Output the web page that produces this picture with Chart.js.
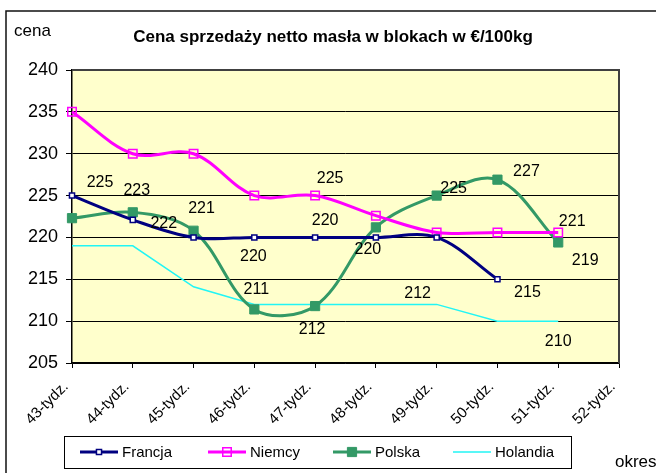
<!DOCTYPE html>
<html>
<head>
<meta charset="utf-8">
<script src="https://cdn.jsdelivr.net/npm/chart.js@4.4.0/dist/chart.umd.min.js"></script>
<style>
  html, body { margin: 0; padding: 0; background: #fff; }
  #wrap { width: 656px; height: 473px; position: relative; }
</style>
</head>
<body>
<div id="wrap"><canvas id="chart" width="656" height="473"></canvas></div>
<script>
// --- Data ---
const weeks = ['43-tydz.', '44-tydz.', '45-tydz.', '46-tydz.', '47-tydz.', '48-tydz.', '49-tydz.', '50-tydz.', '51-tydz.', '52-tydz.'];
const francja = [225, 222.1, 220, 220, 220, 220, 220, 215, null, null];
const niemcy = [235, 230, 230, 225, 225, 222.6, 220.6, 220.6, 220.6, null];
const polska = [222.3, 223, 220.8, 211.4, 211.8, 221.2, 225, 226.9, 219.4, null];
const holandia = [219, 219, 214.1, 212, 212, 212, 212, 210, 210, null];
const yMin = 205;
const yMax = 240;
const yStep = 5;

// data labels shown in the picture: [dataset, point, dx, dy]
const labelPlaces = [
  [0, 0, 28, -13], [2, 1, 4, -22], [0, 1, 31, 4], [2, 2, 8, -22],
  [0, 3, -1, 19], [2, 3, 2, -20], [2, 4, -3, 24], [1, 4, 15, -17],
  [0, 4, 10, -17], [0, 5, -8, 12], [2, 6, 17, -7], [2, 7, 29, -8],
  [1, 8, 14, -11], [2, 8, 27, 18], [0, 7, 30, 13], [3, 6, -19, -11],
  [3, 8, 0, 20]
];

const FONT = 'Arial, "Liberation Sans", sans-serif';

// --- Frame, title, labels, legend ---
const decorPlugin = {
  id: 'decor',
  beforeDraw(chart) {
    const { ctx, chartArea: a } = chart;
    ctx.save();
    ctx.fillStyle = '#FFFFCC';
    ctx.fillRect(a.left, a.top, a.right - a.left, a.bottom - a.top);
    ctx.restore();
  },
  afterDraw(chart) {
    const { ctx, chartArea: a } = chart;
    ctx.save();

    // plot border (top / right)
    ctx.strokeStyle = '#404040';
    ctx.lineWidth = 2;
    ctx.beginPath();
    ctx.moveTo(a.left, a.top);
    ctx.lineTo(a.right, a.top);
    ctx.lineTo(a.right, a.bottom);
    ctx.stroke();

    // outer frame
    ctx.strokeStyle = '#111';
    ctx.lineWidth = 1.5;
    ctx.beginPath();
    ctx.moveTo(6, 480);
    ctx.lineTo(6, 11);
    ctx.lineTo(660, 11);
    ctx.stroke();

    // title and axis names
    ctx.fillStyle = '#000';
    ctx.textBaseline = 'middle';
    ctx.textAlign = 'center';
    ctx.font = 'bold 17px ' + FONT;
    ctx.fillText('Cena sprzedaży netto masła w blokach w €/100kg', 333, 37);
    ctx.textAlign = 'left';
    ctx.font = '17px ' + FONT;
    ctx.fillText('cena', 14, 31);
    ctx.fillText('okres', 615, 462);

    // data labels
    ctx.font = '16px ' + FONT;
    ctx.textAlign = 'center';
    labelPlaces.forEach(([d, i, dx, dy]) => {
      const pt = chart.getDatasetMeta(d).data[i];
      const v = chart.data.datasets[d].data[i];
      ctx.fillText(String(Math.round(v)), pt.x + dx, pt.y + dy);
    });

    // legend
    const lx = 64, ly = 436, lw = 507, lh = 32;
    ctx.strokeStyle = '#000';
    ctx.lineWidth = 1;
    ctx.strokeRect(lx + 0.5, ly + 0.5, lw, lh);
    const starts = [80, 208, 333, 453];
    const cy = ly + lh / 2;
    ctx.font = '15px ' + FONT;
    ctx.textAlign = 'left';
    chart.data.datasets.forEach((ds, k) => {
      const x0 = starts[k];
      ctx.strokeStyle = ds.borderColor;
      ctx.lineWidth = ds.borderWidth;
      ctx.beginPath();
      ctx.moveTo(x0, cy);
      ctx.lineTo(x0 + 38, cy);
      ctx.stroke();
      if (ds.pointRadius > 0) {
        ctx.fillStyle = ds.pointBackgroundColor;
        ctx.strokeStyle = ds.borderColor;
        ctx.lineWidth = ds.pointBorderWidth;
        const s = ds.pointRadius * Math.SQRT1_2;
        ctx.beginPath();
        ctx.rect(x0 + 19 - s, cy - s, 2 * s, 2 * s);
        ctx.fill();
        ctx.stroke();
      }
      ctx.fillStyle = '#000';
      ctx.fillText(ds.label, x0 + 42, cy + 1);
    });

    ctx.restore();
  }
};

new Chart(document.getElementById('chart'), {
  type: 'line',
  data: {
    labels: weeks,
    datasets: [
      {
        label: 'Francja',
        data: francja,
        borderColor: '#000080',
        borderWidth: 3,
        tension: 0.35,
        pointStyle: 'rect',
        pointRadius: 3.6,
        pointBorderWidth: 1.5,
        pointBackgroundColor: '#ffffff',
        pointBorderColor: '#000080'
      },
      {
        label: 'Niemcy',
        data: niemcy,
        borderColor: '#FF00FF',
        borderWidth: 3,
        tension: 0.35,
        pointStyle: 'rect',
        pointRadius: 6,
        pointBorderWidth: 1.5,
        pointBackgroundColor: 'rgba(255,255,204,0)',
        pointBorderColor: '#FF00FF'
      },
      {
        label: 'Polska',
        data: polska,
        borderColor: '#339966',
        borderWidth: 3,
        tension: 0.35,
        pointStyle: 'rect',
        pointRadius: 6.5,
        pointBorderWidth: 1,
        pointBackgroundColor: '#339966',
        pointBorderColor: '#339966'
      },
      {
        label: 'Holandia',
        data: holandia,
        borderColor: '#22F5F5',
        borderWidth: 1.5,
        tension: 0,
        pointRadius: 0,
        pointBorderWidth: 0,
        pointBackgroundColor: 'rgba(0,0,0,0)'
      }
    ]
  },
  options: {
    responsive: false,
    animation: false,
    layout: { padding: { left: 0, right: 37, top: 70, bottom: 0 } },
    plugins: {
      legend: { display: false },
      title: { display: false },
      tooltip: { enabled: false }
    },
    scales: {
      x: {
        afterFit: (s) => { s.height = 110; },
        grid: { drawOnChartArea: false, color: '#000', tickLength: 5 },
        border: { color: '#000', width: 1.5 },
        ticks: {
          color: '#000',
          font: { family: FONT, size: 15 },
          minRotation: 45,
          maxRotation: 45,
          autoSkip: false,
          padding: 10,
          labelOffset: -6
        }
      },
      y: {
        min: yMin,
        max: yMax,
        afterFit: (s) => { s.width = 72; },
        grid: { color: '#000', lineWidth: 1, tickLength: 6 },
        border: { color: '#000', width: 1.5 },
        ticks: {
          stepSize: yStep,
          color: '#000',
          padding: 8,
          font: { family: FONT, size: 18 }
        }
      }
    }
  },
  plugins: [decorPlugin]
});
</script>
</body>
</html>
